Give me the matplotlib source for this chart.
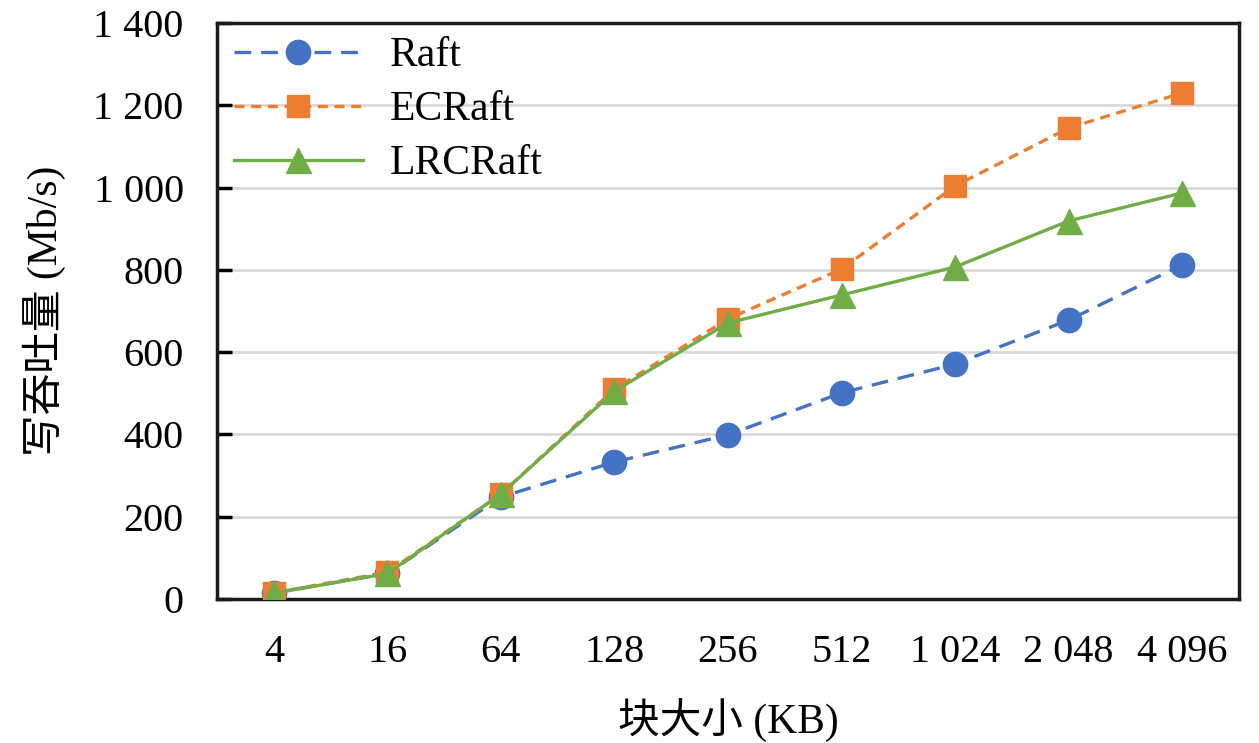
import numpy as np
import matplotlib.pyplot as plt

# ---- data ----
block_sizes = ["4", "16", "64", "128", "256", "512", "1 024", "2 048", "4 096"]
raft = [15, 62, 248, 333, 399, 501, 571, 678, 812]
ecraft = [15, 65, 255, 510, 681, 802, 1004, 1145, 1230]
lrcraft = [14, 62, 255, 505, 671, 739, 807, 919, 987]
y_ticks = [0, 200, 400, 600, 800, 1000, 1200, 1400]
y_tick_labels = ["0", "200", "400", "600", "800", "1 000", "1 200", "1 400"]

fonts = ["Liberation Serif", "Noto Sans CJK SC"]
plt.rcParams["font.family"] = fonts
plt.rcParams["font.size"] = 29

fig = plt.figure(figsize=(12.59, 7.43), dpi=100)
ax = fig.add_axes([0.1724, 0.1938, 0.8117, 0.7752])

x = np.arange(len(block_sizes))
ax.plot(x, raft, color="#4472C4", linestyle=(0, (5, 3)), linewidth=2.4,
        marker="o", markersize=17.5, label="Raft", zorder=3)
ax.plot(x, ecraft, color="#ED7D31", linestyle=(0, (3, 2)), linewidth=2.4,
        marker="s", markersize=16.5, label="ECRaft", zorder=4)
ax.plot(x, lrcraft, color="#70AD47", linestyle="-", linewidth=2.4,
        marker="^", markersize=18, label="LRCRaft", zorder=5)

ax.set_xlim(-0.5, len(block_sizes) - 0.5)
ax.set_ylim(0, 1400)
ax.set_xticks(x)
ax.set_xticklabels(block_sizes)
ax.set_yticks(y_ticks)
ax.set_yticklabels(y_tick_labels)
ax.tick_params(axis="x", length=0, pad=25)
ax.tick_params(axis="y", direction="in", length=11, width=2.5, pad=24)

ax.grid(axis="y", color="#d9d9d9", linewidth=2)
ax.set_axisbelow(True)
for side in ["left", "right", "top", "bottom"]:
    ax.spines[side].set_linewidth(2.5)
    ax.spines[side].set_color("#1a1a1a")

ax.set_xlabel("块大小 (KB)", fontsize=30, labelpad=20)
ax.set_ylabel("写吞吐量 (Mb/s)", fontsize=30, labelpad=20)

ax.legend(loc="upper left", frameon=False, handlelength=3.1,
          handletextpad=0.65, labelspacing=0.37, fontsize=30,
          borderaxespad=0.0, bbox_to_anchor=(0.0, 1.005))

fig.savefig("out.png", dpi=100)
